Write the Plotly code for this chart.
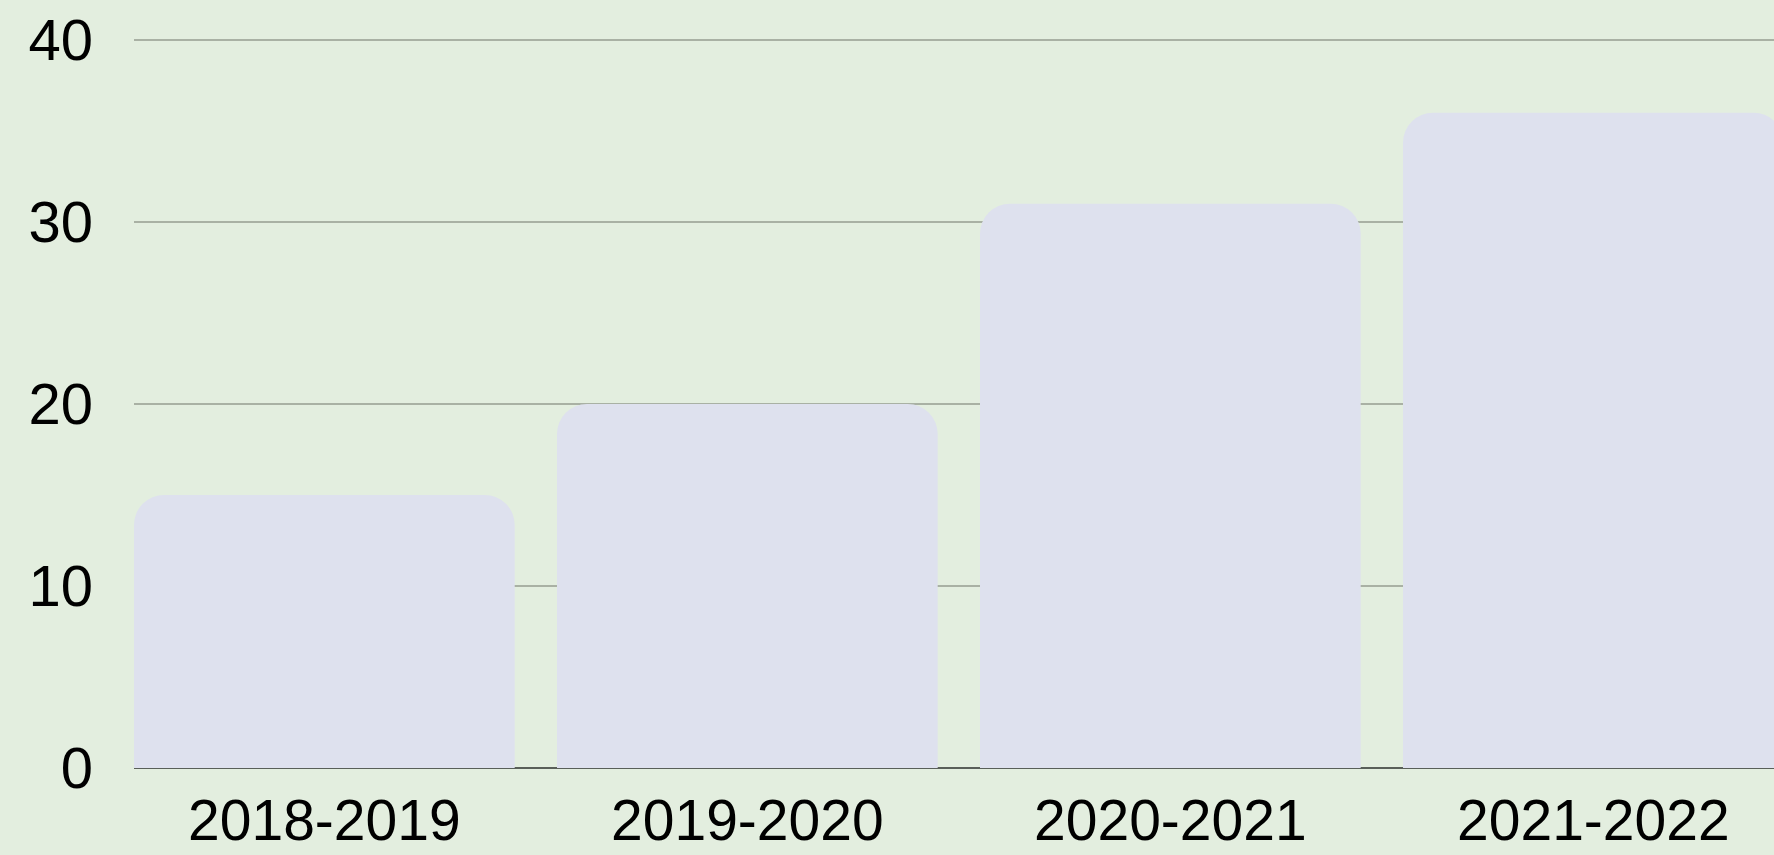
import plotly.graph_objects as go

seasons = ["2018-2019", "2019-2020", "2020-2021", "2021-2022"]
values = [15, 20, 31, 36]
y_ticks = [0, 10, 20, 30, 40]

BG = "#E3EEDF"
BAR = "#DEE1EE"
GRID = "#A9B1A4"
ZERO = "#595F59"
FONT = "Liberation Sans, Arial, Helvetica, sans-serif"

fig = go.Figure(
    go.Bar(
        x=list(range(len(seasons))),
        y=values,
        marker=dict(color=BAR, cornerradius=30, line=dict(width=0)),
        hoverinfo="skip",
    )
)

W, H = 1774, 855
L, R, T, B = 134, 0, 38, 87
cat_px = 423
span = (W - L - R) / cat_px
px_per_unit = 728 / 40.0
ytop = 40 + 2 / px_per_unit

fig.update_layout(
    width=W,
    height=H,
    margin=dict(l=L, r=R, t=T, b=B, pad=0, autoexpand=False),
    paper_bgcolor=BG,
    plot_bgcolor=BG,
    bargap=0.1,
    showlegend=False,
    font=dict(family=FONT, size=58, color="#000000"),
)
fig.update_xaxes(
    range=[-0.45, -0.45 + span],
    automargin=False,
    tickmode="array",
    tickvals=list(range(len(seasons))),
    ticktext=seasons,
    showgrid=False,
    zeroline=False,
    showline=False,
    ticks="",
    ticklabelstandoff=14,
    tickfont=dict(family=FONT, size=57, color="#000000"),
)
fig.update_yaxes(
    range=[0, ytop],
    automargin=False,
    tickmode="array",
    tickvals=y_ticks,
    showgrid=True,
    gridcolor=GRID,
    gridwidth=1.6,
    zeroline=True,
    zerolinecolor=ZERO,
    zerolinewidth=2,
    showline=False,
    ticks="",
    ticklabelstandoff=40,
    tickfont=dict(family=FONT, size=58, color="#000000"),
)

fig.write_html(
    "out.html",
    config={"displayModeBar": False},
    post_script="document.body.style.margin='0';document.body.style.padding='0';"
                "document.documentElement.style.background='" + BG + "';",
)
